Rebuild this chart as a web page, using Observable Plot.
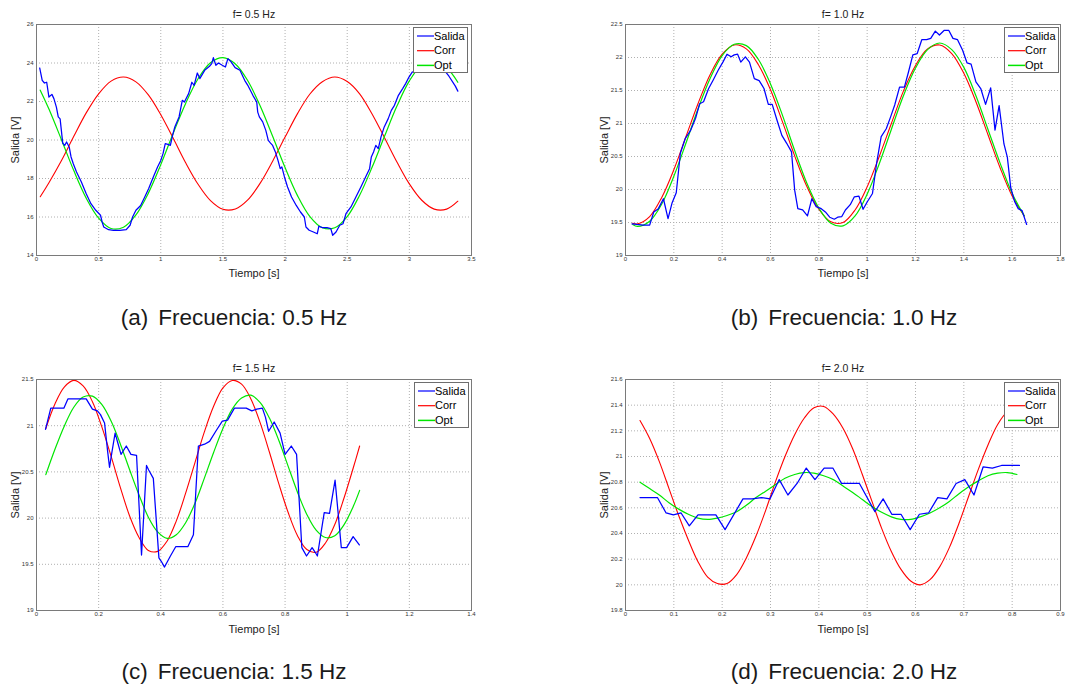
<!DOCTYPE html>
<html><head><meta charset="utf-8">
<script src="https://cdn.jsdelivr.net/npm/d3@7"></script>
<script src="https://cdn.jsdelivr.net/npm/@observablehq/plot@0.6"></script>
<style>
body{margin:0;background:#fff;width:1086px;height:686px;overflow:hidden;font-family:"Liberation Sans",Arial,sans-serif;position:relative;}
.panel{position:absolute;}
.panel svg{display:block;}
.cap{position:absolute;font-size:22.5px;color:#1a1a1a;white-space:nowrap;transform:translate(-50%,-50%);}
.cap .lbl{margin-right:10px;}
.legend{position:absolute;background:#fff;border:1px solid #6e6e6e;box-sizing:border-box;font-size:11px;color:#000;}
.legend svg{position:absolute;left:0;top:0;}
.legend .tx{position:absolute;left:20px;height:15px;line-height:15px;white-space:nowrap;}
</style>
</head><body>
<script>
// ---------- DATA ----------
const titles = ["f= 0.5 Hz", "f= 1.0 Hz", "f= 1.5 Hz", "f= 2.0 Hz"];
const captionLabels = ["(a)", "(b)", "(c)", "(d)"];
const captionTexts = ["Frecuencia: 0.5 Hz", "Frecuencia: 1.0 Hz", "Frecuencia: 1.5 Hz", "Frecuencia: 2.0 Hz"];
const seriesNames = ["Salida", "Corr", "Opt"];
const xLabel = "Tiempo [s]";
const yLabel = "Salida [V]";

const xTicksA = [0, 0.5, 1, 1.5, 2, 2.5, 3, 3.5];
const yTicksA = [14, 16, 18, 20, 22, 24, 26];
const xTicksB = [0, 0.2, 0.4, 0.6, 0.8, 1, 1.2, 1.4, 1.6, 1.8];
const yTicksB = [19, 19.5, 20, 20.5, 21, 21.5, 22, 22.5];
const xTicksC = [0, 0.2, 0.4, 0.6, 0.8, 1, 1.2, 1.4];
const yTicksC = [19, 19.5, 20, 20.5, 21, 21.5];
const xTicksD = [0, 0.1, 0.2, 0.3, 0.4, 0.5, 0.6, 0.7, 0.8, 0.9];
const yTicksD = [19.8, 20, 20.2, 20.4, 20.6, 20.8, 21, 21.2, 21.4, 21.6];

const salidaA = [[0.026,23.74],[0.046,23.10],[0.064,22.96],[0.082,23.00],[0.100,22.23],[0.124,22.37],[0.140,22.15],[0.160,21.71],[0.175,21.20],[0.190,21.10],[0.200,20.50],[0.211,19.84],[0.227,19.72],[0.242,19.90],[0.263,19.64],[0.278,19.12],[0.296,18.77],[0.322,18.34],[0.361,17.82],[0.400,17.21],[0.438,16.69],[0.477,16.35],[0.515,16.09],[0.528,15.74],[0.541,15.48],[0.580,15.34],[0.619,15.31],[0.670,15.31],[0.722,15.34],[0.753,15.57],[0.773,16.00],[0.800,16.35],[0.838,16.60],[0.871,17.04],[0.902,17.47],[0.940,18.08],[0.974,18.60],[1.000,18.94],[1.018,19.29],[1.036,19.81],[1.057,19.77],[1.077,19.72],[1.095,20.24],[1.113,20.68],[1.147,21.20],[1.173,22.06],[1.190,21.97],[1.224,22.41],[1.250,23.00],[1.268,22.84],[1.294,23.48],[1.314,23.19],[1.353,23.62],[1.392,23.83],[1.410,23.97],[1.423,24.28],[1.443,23.88],[1.464,24.00],[1.495,23.88],[1.520,23.79],[1.540,24.23],[1.567,24.05],[1.598,23.76],[1.637,23.62],[1.675,23.10],[1.700,22.84],[1.741,22.32],[1.772,21.97],[1.780,21.45],[1.793,21.20],[1.820,20.94],[1.845,20.50],[1.865,19.98],[1.883,19.84],[1.900,19.72],[1.922,19.38],[1.943,18.94],[1.961,18.51],[1.974,18.60],[1.995,18.08],[2.020,17.56],[2.052,17.04],[2.090,16.60],[2.124,16.26],[2.155,16.00],[2.168,15.48],[2.194,15.31],[2.228,15.22],[2.259,15.13],[2.272,15.52],[2.300,15.45],[2.337,15.45],[2.368,15.40],[2.383,15.05],[2.410,15.22],[2.440,15.57],[2.466,15.65],[2.490,16.17],[2.530,16.52],[2.570,17.04],[2.610,17.56],[2.648,18.08],[2.680,18.51],[2.694,19.12],[2.712,19.38],[2.730,19.72],[2.750,19.55],[2.772,20.16],[2.798,20.68],[2.830,21.11],[2.855,21.54],[2.880,21.80],[2.912,22.32],[2.946,22.67],[2.970,22.93],[2.997,23.27],[3.023,23.53],[3.100,23.70],[3.180,23.90],[3.260,23.80],[3.320,23.30],[3.370,22.80],[3.390,22.54]];
const corrA = [[0.03,17.05],[0.1,17.78],[0.2,18.92],[0.3,20.19],[0.4,21.41],[0.5,22.40],[0.6,23.06],[0.7,23.27],[0.8,23.02],[0.9,22.34],[1.0,21.31],[1.1,20.09],[1.2,18.82],[1.3,17.70],[1.4,16.85],[1.5,16.40],[1.6,16.42],[1.7,16.89],[1.8,17.76],[1.9,18.90],[2.0,20.15],[2.1,21.37],[2.2,22.39],[2.3,23.03],[2.4,23.27],[2.5,23.04],[2.6,22.40],[2.7,21.35],[2.8,20.12],[2.9,18.86],[3.0,17.72],[3.1,16.87],[3.2,16.41],[3.3,16.41],[3.39,16.82]];
const optA = [[0.03,22.59],[0.1,21.61],[0.2,20.03],[0.3,18.41],[0.4,16.98],[0.5,15.94],[0.6,15.40],[0.7,15.47],[0.8,16.11],[0.9,17.24],[1.0,18.72],[1.1,20.35],[1.2,21.90],[1.3,23.18],[1.4,24.01],[1.5,24.28],[1.6,23.95],[1.7,23.08],[1.8,21.76],[1.9,20.19],[2.0,18.57],[2.1,17.11],[2.2,16.02],[2.3,15.44],[2.4,15.44],[2.5,16.02],[2.6,17.13],[2.7,18.58],[2.8,20.19],[2.9,21.76],[3.0,23.07],[3.1,23.90],[3.2,24.10],[3.3,23.75],[3.39,23.00]];

const salidaB = [[0.027,19.48],[0.047,19.47],[0.073,19.46],[0.100,19.46],[0.117,19.66],[0.136,19.71],[0.157,19.86],[0.176,19.56],[0.193,19.80],[0.210,19.95],[0.227,20.55],[0.247,20.77],[0.270,20.90],[0.290,21.08],[0.307,21.30],[0.323,21.33],[0.344,21.53],[0.363,21.66],[0.384,21.81],[0.403,21.93],[0.420,22.05],[0.437,22.01],[0.450,22.04],[0.464,22.05],[0.477,21.93],[0.496,22.01],[0.513,21.93],[0.533,21.68],[0.553,21.65],[0.573,21.53],[0.591,21.29],[0.607,21.29],[0.627,21.05],[0.647,20.82],[0.667,20.70],[0.687,20.57],[0.700,19.99],[0.713,19.71],[0.733,19.69],[0.753,19.60],[0.771,19.86],[0.789,19.74],[0.810,19.71],[0.827,19.66],[0.845,19.58],[0.864,19.55],[0.878,19.58],[0.895,19.59],[0.910,19.69],[0.930,19.77],[0.947,19.89],[0.966,19.90],[0.983,19.70],[1.000,19.81],[1.022,19.94],[1.040,20.42],[1.058,20.80],[1.079,20.92],[1.097,21.10],[1.114,21.28],[1.134,21.55],[1.154,21.55],[1.171,21.78],[1.189,22.04],[1.207,22.06],[1.226,22.27],[1.246,22.27],[1.263,22.29],[1.282,22.40],[1.299,22.34],[1.318,22.41],[1.338,22.41],[1.355,22.29],[1.374,22.27],[1.395,22.11],[1.413,21.92],[1.430,21.90],[1.450,21.63],[1.470,21.53],[1.490,21.29],[1.511,21.54],[1.529,20.90],[1.546,21.27],[1.566,20.69],[1.580,20.49],[1.594,20.03],[1.610,19.82],[1.625,19.71],[1.641,19.68],[1.660,19.47]];
const corrB = [[0.03,19.49],[0.05,19.48],[0.10,19.59],[0.15,19.88],[0.20,20.30],[0.25,20.80],[0.30,21.30],[0.35,21.74],[0.40,22.05],[0.45,22.19],[0.50,22.13],[0.55,21.89],[0.60,21.51],[0.65,21.02],[0.70,20.51],[0.75,20.05],[0.80,19.70],[0.85,19.51],[0.90,19.50],[0.95,19.69],[1.00,20.04],[1.05,20.50],[1.10,21.00],[1.15,21.49],[1.20,21.88],[1.25,22.13],[1.30,22.19],[1.35,22.06],[1.40,21.76],[1.45,21.33],[1.50,20.83],[1.55,20.33],[1.60,19.90],[1.65,19.60]];
const optB = [[0.03,19.47],[0.05,19.44],[0.10,19.52],[0.15,19.78],[0.20,20.20],[0.25,20.70],[0.30,21.22],[0.35,21.68],[0.40,22.03],[0.45,22.20],[0.50,22.18],[0.55,21.97],[0.60,21.60],[0.65,21.12],[0.70,20.59],[0.75,20.10],[0.80,19.72],[0.85,19.49],[0.90,19.45],[0.95,19.60],[1.00,19.93],[1.05,20.39],[1.10,20.91],[1.15,21.42],[1.20,21.84],[1.25,22.12],[1.30,22.22],[1.35,22.12],[1.40,21.85],[1.45,21.42],[1.50,20.91],[1.55,20.40],[1.60,19.94],[1.65,19.60]];

const salidaC = [[0.029,20.96],[0.046,21.19],[0.088,21.19],[0.101,21.29],[0.160,21.29],[0.180,21.18],[0.196,21.16],[0.206,21.12],[0.219,21.03],[0.229,20.72],[0.235,20.55],[0.243,20.72],[0.253,20.92],[0.262,20.81],[0.272,20.69],[0.289,20.78],[0.304,20.69],[0.322,20.68],[0.338,19.60],[0.354,20.57],[0.361,20.52],[0.376,20.43],[0.394,19.57],[0.402,19.53],[0.412,19.47],[0.431,19.59],[0.448,19.69],[0.487,19.69],[0.505,19.82],[0.521,20.78],[0.541,20.80],[0.557,20.83],[0.577,20.94],[0.598,21.05],[0.615,21.06],[0.637,21.19],[0.675,21.19],[0.693,21.16],[0.709,21.18],[0.727,21.19],[0.737,21.09],[0.747,20.94],[0.765,21.04],[0.784,20.92],[0.800,20.69],[0.820,20.78],[0.837,20.69],[0.854,19.68],[0.869,19.59],[0.887,19.68],[0.897,19.63],[0.904,19.59],[0.926,20.06],[0.943,20.05],[0.961,20.41],[0.981,19.68],[0.998,19.68],[1.019,19.80],[1.039,19.71]];
const corrC = [[0.03,20.97],[0.06,21.24],[0.09,21.42],[0.12,21.49],[0.15,21.43],[0.18,21.26],[0.21,20.99],[0.24,20.67],[0.27,20.33],[0.30,20.02],[0.33,19.79],[0.36,19.65],[0.39,19.64],[0.42,19.75],[0.45,19.97],[0.48,20.27],[0.51,20.60],[0.54,20.93],[0.57,21.21],[0.60,21.41],[0.63,21.49],[0.66,21.45],[0.69,21.29],[0.72,21.03],[0.75,20.71],[0.78,20.37],[0.81,20.06],[0.84,19.81],[0.87,19.66],[0.90,19.63],[0.93,19.73],[0.96,19.93],[0.99,20.22],[1.02,20.55],[1.04,20.78]];
const optC = [[0.03,20.47],[0.06,20.75],[0.09,21.00],[0.12,21.20],[0.15,21.31],[0.18,21.32],[0.21,21.23],[0.24,21.05],[0.27,20.80],[0.30,20.52],[0.33,20.25],[0.36,20.01],[0.39,19.85],[0.42,19.78],[0.45,19.82],[0.48,19.95],[0.51,20.16],[0.54,20.43],[0.57,20.71],[0.60,20.97],[0.63,21.18],[0.66,21.30],[0.69,21.33],[0.72,21.25],[0.75,21.08],[0.78,20.84],[0.81,20.56],[0.84,20.28],[0.87,20.04],[0.90,19.87],[0.93,19.79],[0.96,19.81],[0.99,19.93],[1.02,20.13],[1.04,20.30]];

const salidaD = [[0.030,20.68],[0.066,20.68],[0.084,20.56],[0.099,20.545],[0.115,20.56],[0.132,20.46],[0.150,20.545],[0.168,20.545],[0.187,20.545],[0.206,20.43],[0.243,20.67],[0.262,20.67],[0.281,20.68],[0.299,20.67],[0.318,20.82],[0.336,20.70],[0.355,20.79],[0.374,20.91],[0.392,20.82],[0.411,20.91],[0.429,20.91],[0.447,20.79],[0.466,20.79],[0.484,20.79],[0.516,20.57],[0.533,20.67],[0.551,20.55],[0.570,20.55],[0.589,20.43],[0.608,20.55],[0.627,20.56],[0.646,20.68],[0.665,20.67],[0.684,20.79],[0.702,20.82],[0.721,20.70],[0.740,20.92],[0.759,20.91],[0.778,20.93],[0.797,20.93],[0.815,20.93]];
const corrD = [[0.03,21.28],[0.05,21.14],[0.07,20.96],[0.09,20.75],[0.11,20.54],[0.13,20.35],[0.15,20.18],[0.17,20.06],[0.19,20.01],[0.21,20.01],[0.23,20.08],[0.25,20.21],[0.27,20.38],[0.29,20.58],[0.31,20.80],[0.33,21.00],[0.35,21.17],[0.37,21.30],[0.39,21.38],[0.41,21.39],[0.43,21.33],[0.45,21.22],[0.47,21.06],[0.49,20.86],[0.51,20.65],[0.53,20.44],[0.55,20.26],[0.57,20.12],[0.59,20.03],[0.61,20.00],[0.63,20.04],[0.65,20.14],[0.67,20.29],[0.69,20.48],[0.71,20.69],[0.73,20.90],[0.75,21.09],[0.77,21.25],[0.79,21.35],[0.81,21.39]];
const optD = [[0.03,20.80],[0.05,20.75],[0.07,20.70],[0.09,20.64],[0.11,20.59],[0.13,20.55],[0.15,20.52],[0.17,20.51],[0.19,20.52],[0.21,20.54],[0.23,20.57],[0.25,20.62],[0.27,20.68],[0.29,20.73],[0.31,20.78],[0.33,20.83],[0.35,20.86],[0.37,20.875],[0.39,20.87],[0.41,20.85],[0.43,20.82],[0.45,20.77],[0.47,20.72],[0.49,20.665],[0.51,20.61],[0.53,20.565],[0.55,20.53],[0.57,20.51],[0.59,20.51],[0.61,20.53],[0.63,20.56],[0.65,20.60],[0.67,20.65],[0.69,20.71],[0.71,20.765],[0.73,20.81],[0.75,20.85],[0.77,20.87],[0.79,20.875],[0.81,20.86]];

const colors = {Salida: "#0000ff", Corr: "#ff0000", Opt: "#00e600"};

// ---------- LAYOUT ----------
const panels = [
  {left: 0,   top: 0,   mL: 36, mR: 72, mT: 24, mB: 35, xd: [0, 3.5], yd: [14, 26], xt: xTicksA, yt: yTicksA, s: salidaA, c: corrA, o: optA, titleDy: -10, xlDy: 18, leg: [413, 27], cap: [234, 318]},
  {left: 543, top: 0,   mL: 82, mR: 26, mT: 24, mB: 35, xd: [0, 1.8], yd: [19, 22.5], xt: xTicksB, yt: yTicksB, s: salidaB, c: corrB, o: optB, titleDy: -10, xlDy: 18, leg: [1004, 27], cap: [844, 318]},
  {left: 0,   top: 350, mL: 36, mR: 72, mT: 29, mB: 30, xd: [0, 1.4], yd: [19, 21.5], xt: xTicksC, yt: yTicksC, s: salidaC, c: corrC, o: optC, titleDy: -11, xlDy: 19, leg: [414, 382], cap: [234, 672]},
  {left: 543, top: 350, mL: 82, mR: 26, mT: 29, mB: 30, xd: [0, 0.9], yd: [19.8, 21.6], xt: xTicksD, yt: yTicksD, s: salidaD, c: corrD, o: optD, titleDy: -11, xlDy: 19, leg: [1004, 382], cap: [844, 672]}
];

const toObj = arr => arr.map(([t, v]) => ({t, v}));
const FONT = '"Liberation Sans", Arial, Helvetica, sans-serif';
const SVGNS = "http://www.w3.org/2000/svg";

panels.forEach((p, i) => {
  const chart = Plot.plot({
    width: 543, height: 290,
    marginLeft: p.mL, marginRight: p.mR, marginTop: p.mT, marginBottom: p.mB,
    x: {domain: p.xd}, y: {domain: p.yd},
    style: {fontFamily: FONT, fontSize: "6px", color: "#222", background: "transparent", overflow: "visible"},
    marks: [
      Plot.gridX(p.xt, {stroke: "#b0b0b0", strokeOpacity: 1, strokeDasharray: "1,2"}),
      Plot.gridY(p.yt, {stroke: "#b0b0b0", strokeOpacity: 1, strokeDasharray: "1,2"}),
      Plot.line(toObj(p.c), {x: "t", y: "v", stroke: colors.Corr, strokeWidth: 1.1, curve: "catmull-rom"}),
      Plot.line(toObj(p.o), {x: "t", y: "v", stroke: colors.Opt, strokeWidth: 1.2, curve: "catmull-rom"}),
      Plot.line(toObj(p.s), {x: "t", y: "v", stroke: colors.Salida, strokeWidth: 1.25}),
      Plot.frame({stroke: "#7a7a7a"}),
      Plot.axisX(p.xt, {tickSize: 0, tickPadding: 1.5, label: null, tickFormat: d => String(d), fill: "#333"}),
      Plot.axisY(p.yt, {tickSize: 0, tickPadding: 3, label: null, tickFormat: d => String(d), fill: "#333"}),
      Plot.text([titles[i]], {text: d => d, frameAnchor: "top", lineAnchor: "middle", textAnchor: "middle", dy: p.titleDy, fontSize: 10.5, fill: "#222"}),
      Plot.text([xLabel], {text: d => d, frameAnchor: "bottom", lineAnchor: "middle", textAnchor: "middle", dy: p.xlDy, fontSize: 11, fill: "#222"}),
      Plot.text([yLabel], {text: d => d, frameAnchor: "left", lineAnchor: "middle", textAnchor: "middle", rotate: -90, dx: -21, fontSize: 11, fill: "#222"})
    ]
  });
  const holder = document.createElement("div");
  holder.className = "panel";
  holder.style.left = p.left + "px";
  holder.style.top = p.top + "px";
  holder.appendChild(chart);
  document.body.appendChild(holder);

  // legend
  const leg = document.createElement("div");
  leg.className = "legend";
  leg.style.left = p.leg[0] + "px";
  leg.style.top = p.leg[1] + "px";
  leg.style.width = "55px";
  leg.style.height = "46px";
  const sv = document.createElementNS(SVGNS, "svg");
  sv.setAttribute("width", "53");
  sv.setAttribute("height", "44");
  seriesNames.forEach((name, k) => {
    const yy = 8 + k * 14.7;
    const ln = document.createElementNS(SVGNS, "line");
    ln.setAttribute("x1", "3"); ln.setAttribute("x2", "20");
    ln.setAttribute("y1", yy); ln.setAttribute("y2", yy);
    ln.setAttribute("stroke", colors[name]);
    ln.setAttribute("stroke-width", name === "Opt" ? "1.5" : "1.2");
    sv.appendChild(ln);
    const tx = document.createElement("div");
    tx.className = "tx";
    tx.style.top = (yy - 7.5) + "px";
    tx.textContent = name;
    leg.appendChild(tx);
  });
  leg.appendChild(sv);
  document.body.appendChild(leg);

  // caption
  const cap = document.createElement("div");
  cap.className = "cap";
  cap.style.left = p.cap[0] + "px";
  cap.style.top = p.cap[1] + "px";
  const l = document.createElement("span");
  l.className = "lbl";
  l.textContent = captionLabels[i];
  cap.appendChild(l);
  cap.appendChild(document.createTextNode(captionTexts[i]));
  document.body.appendChild(cap);
});
</script>
</body></html>
